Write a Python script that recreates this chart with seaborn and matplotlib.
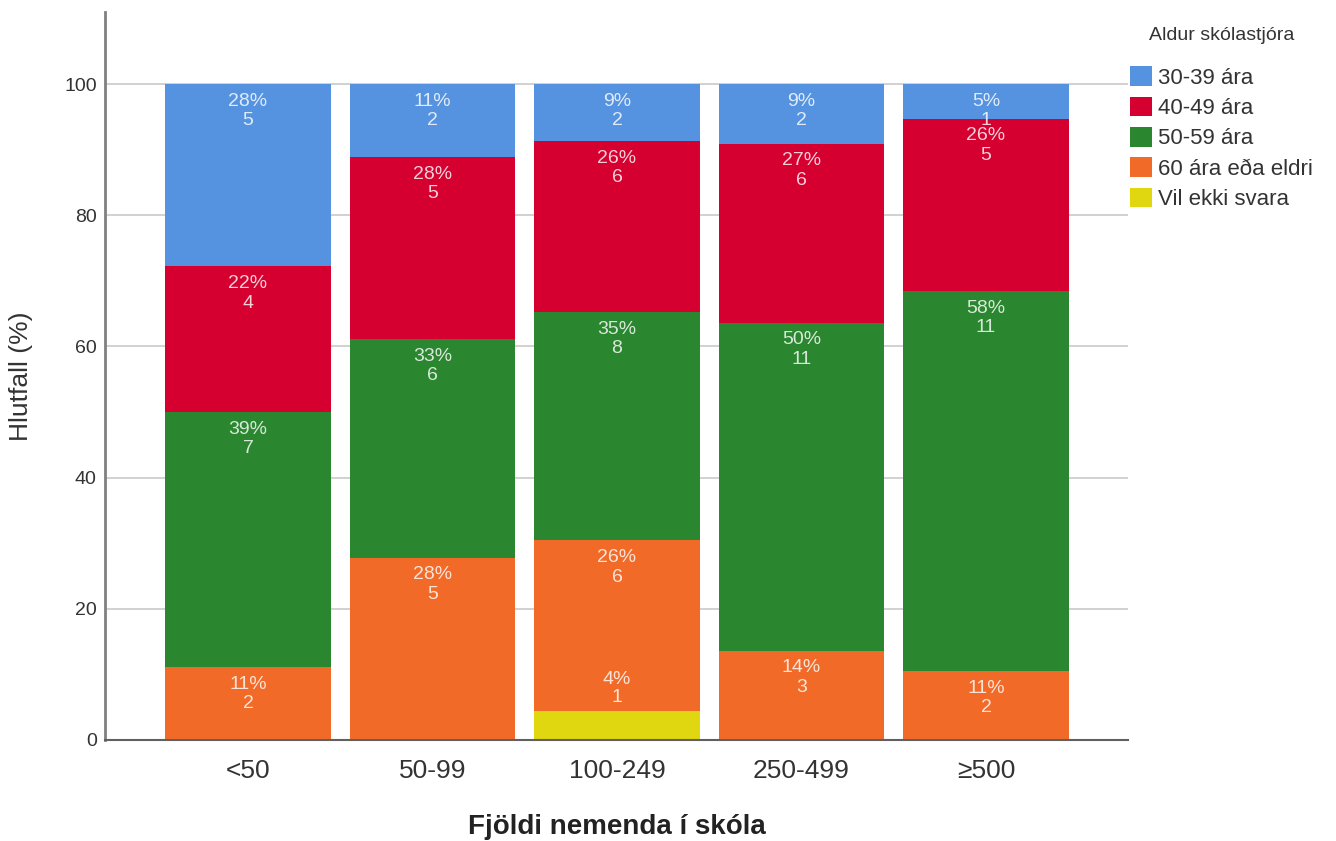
import numpy as np
import pandas as pd
import matplotlib
matplotlib.use("Agg")
import matplotlib.pyplot as plt
import seaborn as sns

# fjöldi nemenda (x) og aldur skólastjóra (stöflun)
categories = ["<50", "50-99", "100-249", "250-499", "\u2265500"]
groups = ["30-39 ára", "40-49 ára", "50-59 ára", "60 ára eða eldri", "Vil ekki svara"]
counts_30_39 = [5, 2, 2, 2, 1]
counts_40_49 = [4, 5, 6, 6, 5]
counts_50_59 = [7, 6, 8, 11, 11]
counts_60_plus = [2, 5, 6, 3, 2]
counts_no_answer = [0, 0, 1, 0, 0]

colors = ["#5593E1", "#D5002F", "#2A862F", "#F26A28", "#E1D711"]

sns.set_theme(style="white")
plt.rcParams["font.family"] = ["Liberation Sans", "DejaVu Sans"]

counts = pd.DataFrame(
    [counts_30_39, counts_40_49, counts_50_59, counts_60_plus, counts_no_answer],
    index=groups, columns=categories,
)
pct = counts / counts.sum(axis=0) * 100

# stacking bottom -> top is the reverse of the legend order
stack_order = groups[::-1]
tops = pct.loc[stack_order].cumsum(axis=0)

fig = plt.figure(figsize=(13.36, 8.41), dpi=100)
ax = fig.add_axes([105 / 1336, 1 - 740 / 841, (1128 - 105) / 1336, (740 - 12) / 841])

# draw cumulative bars from the tallest layer down so they overlap into stacks
for g, c in zip(groups, colors):
    df = pd.DataFrame({"cat": categories, "top": tops.loc[g].values})
    sns.barplot(data=df, x="cat", y="top", color=c, saturation=1, width=0.895,
                linewidth=0, edgecolor="none", label=g, ax=ax, zorder=2)

# labels: percent + count near the top of each segment
for i, cat in enumerate(categories):
    for g in groups:
        n = counts.loc[g, cat]
        if n == 0:
            continue
        top = tops.loc[g, cat]
        height = pct.loc[g, cat]
        if height < 5:
            # too thin, put the label just above the segment
            y1, y2 = top + 4.9, top + 2.1
        else:
            y1, y2 = top - 2.6, top - 5.6
        ax.text(i, y1, f"{pct.loc[g, cat]:.0f}%", ha="center", va="center",
                color="white", alpha=0.82, fontsize=14, zorder=5)
        ax.text(i, y2, f"{n}", ha="center", va="center",
                color="white", alpha=0.82, fontsize=14, zorder=5)

ax.set_xlim(-0.775, 4.77)
ax.set_ylim(0, 111)
ax.set_yticks([0, 20, 40, 60, 80, 100])
ax.yaxis.grid(True, color="#c9c9c9", linewidth=1.2)
ax.xaxis.grid(False)
ax.set_axisbelow(True)

for s in ["top", "right"]:
    ax.spines[s].set_visible(False)
ax.spines["left"].set_color("#808080")
ax.spines["left"].set_linewidth(2)
ax.spines["bottom"].set_color("#606060")
ax.spines["bottom"].set_linewidth(1.5)

ax.tick_params(axis="y", length=0, pad=6, labelsize=14, labelcolor="#333333")
ax.tick_params(axis="x", length=0, pad=14, labelsize=19, labelcolor="#333333")

ax.set_xlabel("Fjöldi nemenda í skóla", fontsize=20, fontweight="bold",
              color="#222222", labelpad=22)
ax.set_ylabel("Hlutfall (%)", fontsize=19, color="#333333", labelpad=22)

leg = ax.legend(loc="upper left", bbox_to_anchor=(1130 / 1336, 1 - 27 / 841),
                bbox_transform=fig.transFigure, frameon=False, fontsize=16,
                title="Aldur skólastjóra", title_fontsize=14,
                handlelength=1.0, handleheight=1.0, handletextpad=0.25,
                labelspacing=0.35, borderpad=0, borderaxespad=0)
leg.get_title().set_color("#333333")
leg._legend_box.sep = 16
for t in leg.get_texts():
    t.set_color("#333333")

fig.savefig("out.png", dpi=100)
